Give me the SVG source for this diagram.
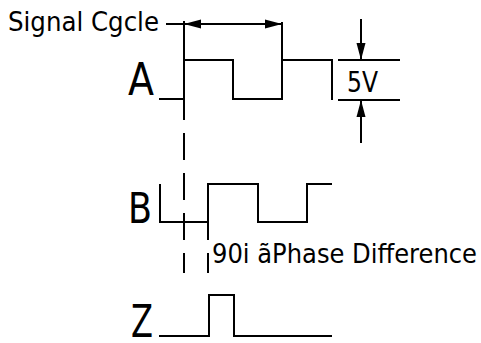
<svg xmlns="http://www.w3.org/2000/svg" width="481" height="343" viewBox="0 0 481 343">
<style>
.w{fill:none;stroke:#000;stroke-width:2}
.d{fill:none;stroke:#000;stroke-width:2;stroke-dasharray:27 13}
.t{font-family:"DejaVu Sans","Liberation Sans",sans-serif;fill:#000}
</style>
<defs>
<marker id="ah" markerUnits="userSpaceOnUse" markerWidth="18" markerHeight="10" refX="17" refY="5" orient="auto-start-reverse">
<path d="M0,0.5 L17,5 L0,9.5 Z" fill="#000"/>
</marker>
</defs>
<g id="labels">
<text class="t" x="8" y="31" font-size="26" textLength="151" lengthAdjust="spacingAndGlyphs">Signal Cgcle</text>
<text class="t" x="128" y="95" font-size="44" textLength="26" lengthAdjust="spacingAndGlyphs">A</text>
<text class="t" x="128" y="223" font-size="42" textLength="24" lengthAdjust="spacingAndGlyphs">B</text>
<text class="t" x="131" y="337" font-size="44" textLength="22" lengthAdjust="spacingAndGlyphs">Z</text>
<text class="t" x="347" y="92" font-size="28" textLength="31" lengthAdjust="spacingAndGlyphs">5V</text>
<text class="t" x="212" y="263" font-size="27" textLength="265" lengthAdjust="spacingAndGlyphs">90i ãPhase Difference</text>
</g>
<g id="waveA"><path class="w" d="M159,99 H184 V60 H233 V99 H282 V60 H332 V100"/></g>
<g id="waveB"><path class="w" d="M160,184 V222 H208 V184 H258 V222 H307 V184 H332"/></g>
<g id="waveZ"><path class="w" d="M159,336 H209 V295 H234 V336 H332"/></g>
<g id="connectors">
<path class="w" d="M166,24 H184"/>
<path class="w" d="M184,21 V120"/>
<path class="d" d="M184,133 V273"/>
<path class="d" d="M208,213 V273"/>
<path class="w" d="M282,22 V60"/>
<path class="w" d="M184,24 H282" marker-start="url(#ah)" marker-end="url(#ah)"/>
<path class="w" d="M338,60 H400 M338,100 H400"/>
<path class="w" d="M361,19 V60" marker-end="url(#ah)"/>
<path class="w" d="M361,143 V100" marker-end="url(#ah)"/>
</g>
</svg>
